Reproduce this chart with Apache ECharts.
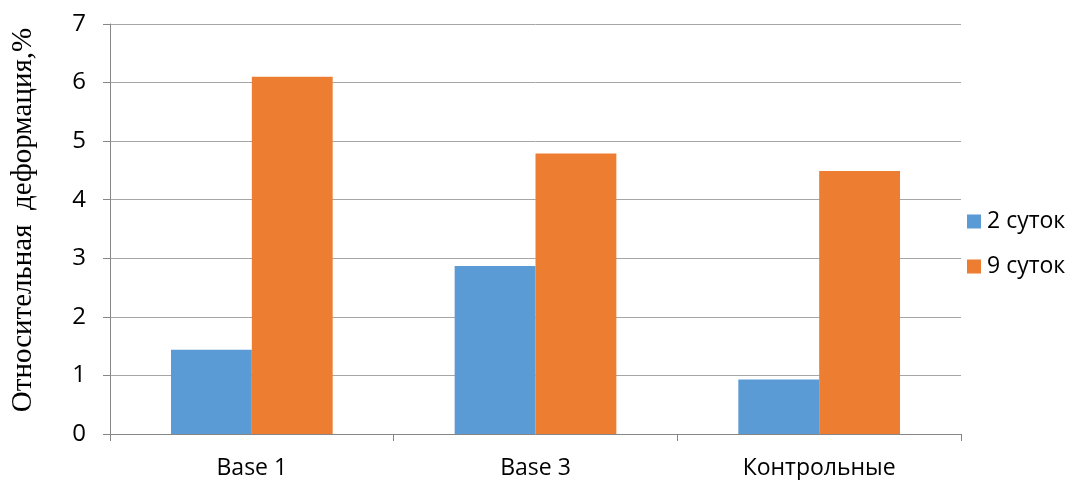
<!DOCTYPE html>
<html><head><meta charset="utf-8">
<script src="https://cdn.jsdelivr.net/npm/echarts@6/dist/echarts.min.js"></script>
<style>html,body{margin:0;padding:0;background:#fff}#c{width:1070px;height:480px}</style>
</head><body><div id="c"></div>
<script>
const categories = ['Base 1', 'Base 3', 'Контрольные'];
const seriesNames = ['2 суток', '9 суток'];
const values2 = [1.44, 2.87, 0.93];
const values9 = [6.1, 4.79, 4.49];
const yTicks = [0, 1, 2, 3, 4, 5, 6, 7];

const chart = echarts.init(document.getElementById('c'));
chart.setOption({
  animation: false,
  grid: { left: 110, right: 109, top: 24, bottom: 46, containLabel: false, outerBoundsMode: 'none' },
  legend: {
    orient: 'vertical', left: 962, top: 205, itemGap: 22,
    itemWidth: 14, itemHeight: 14, icon: 'rect',
    textStyle: { fontFamily: 'Open Sans', fontSize: 23, color: '#000', padding: [0,0,0,1] },
    data: seriesNames
  },
  xAxis: {
    type: 'category', data: categories,
    axisLine: { lineStyle: { color: '#868686', width: 1 } },
    axisTick: { show: true, length: 7, lineStyle: { color: '#868686' } },
    axisLabel: { fontFamily: 'Open Sans', fontSize: 23, color: '#000', margin: 23 }
  },
  yAxis: {
    type: 'value', min: 0, max: 7, interval: 1,
    name: 'Относительная  деформация,%', nameLocation: 'middle', nameGap: 72,
    nameTextStyle: { fontFamily: 'Liberation Serif', fontSize: 29, color: '#000', padding: [0, 0, 0, 18] },
    axisLine: { show: true, lineStyle: { color: '#868686' } },
    axisTick: { show: true, length: 7, lineStyle: { color: '#868686' } },
    axisLabel: { fontFamily: 'Open Sans', fontSize: 24, color: '#000', margin: 24,
      formatter: v => yTicks.includes(v) ? String(v) : '' },
    splitLine: { lineStyle: { color: '#a6a6a6', width: 1 } }
  },
  series: [
    { name: seriesNames[0], type: 'bar', data: values2, barGap: '0%', barCategoryGap: '43%',
      itemStyle: { color: '#5b9bd5' } },
    { name: seriesNames[1], type: 'bar', data: values9, barGap: '0%', barCategoryGap: '43%',
      itemStyle: { color: '#ed7d31' } }
  ]
});
</script></body></html>
